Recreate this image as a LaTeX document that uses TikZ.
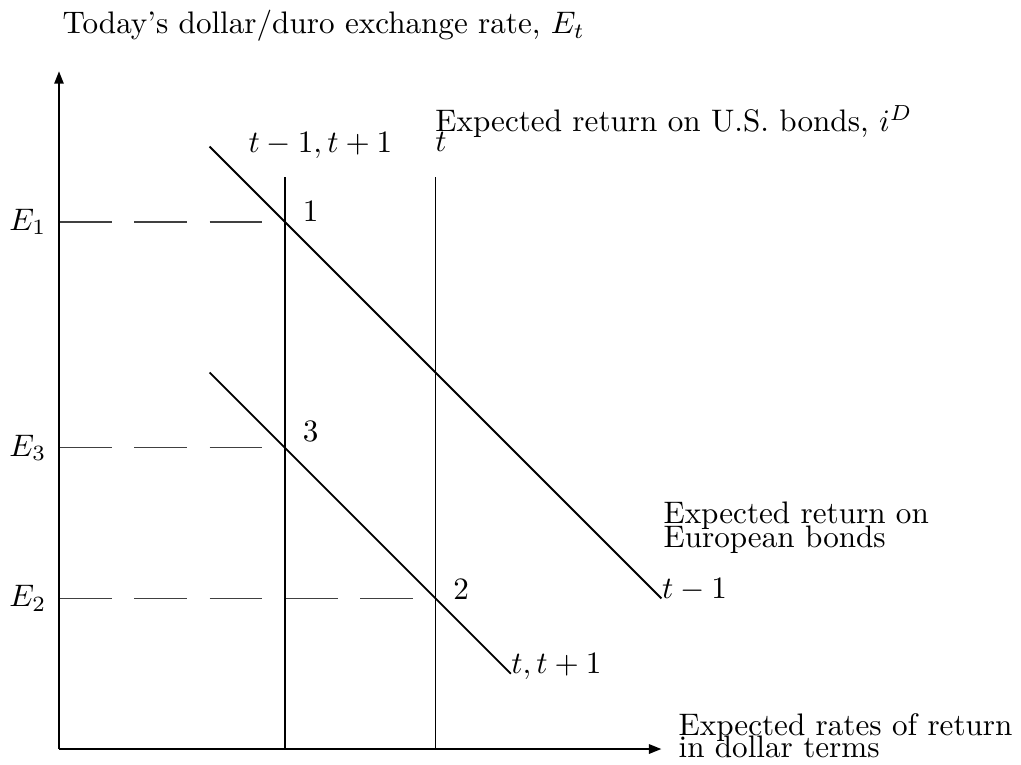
\documentclass[tikz,border=0pt]{standalone}
\usetikzlibrary{arrows.meta}
\begin{document}
\begin{tikzpicture}[x=0.85cm,y=0.85cm,
  axisline/.style={line width=0.6pt,-{Triangle[length=4pt,width=3pt]}},
  solidline/.style={line width=0.6pt},
  guideline/.style={line width=0.4pt,black!75,dash pattern=on 0.595cm off 0.255cm},
  lbl/.style={anchor=base west,inner sep=0pt},
  elbl/.style={anchor=east,inner sep=0pt}]
\useasboundingbox (-0.7835,-0.199) rectangle (12.775,9.947);
% points
\coordinate (O) at (0,0);
\coordinate (Ytop) at (0,9);
\coordinate (Xend) at (8,0);
\coordinate (Vab) at (3,0);
\coordinate (Vat) at (3,7.6);
\coordinate (Vbb) at (5,0);
\coordinate (Vbt) at (5,7.6);
\coordinate (Ua) at (2,8);
\coordinate (Ub) at (8,2);
\coordinate (La) at (2,5);
\coordinate (Lb) at (6,1);
\coordinate (Y1) at (0,7);
\coordinate (Y3) at (0,4);
\coordinate (Y2) at (0,2);
\coordinate (P1) at (3,7);
\coordinate (P3) at (3,4);
\coordinate (Q2) at (3,2);
\coordinate (P2) at (5,2);
% dashed guides
\draw[guideline] (Y1) -- (P1);
\draw[guideline] (Y3) -- (P3);
\draw[guideline] (Y2) -- (Q2);
\draw[guideline] (Q2) -- (P2);
% axes
\draw[axisline] (O) -- (Ytop);
\draw[axisline] (O) -- (Xend);
% vertical lines
\draw[solidline] (Vab) -- (Vat);
\draw[solidline] (Vbb) -- (Vbt);
% downward lines
\draw[solidline] (Ua) -- (Ub);
\draw[solidline] (La) -- (Lb);
% labels
\node[lbl] (title) at (0.04,9.5) {Today's dollar/duro exchange rate, $E_t$};
\node[lbl] (tl) at (2.51,7.915) {$t-1,t+1$};
\node[lbl] (tr) at (4.99,7.94) {$t$};
\node[lbl] (us) at (4.99,8.2) {Expected return on U.S. bonds, $i^D$};
\node[lbl] (n1) at (3.23,7.0) {1};
\node[lbl] (n3) at (3.23,4.09) {3};
\node[lbl] (n2) at (5.23,1.98) {2};
\node[lbl] (tm1) at (Ub) {$t-1$};
\node[lbl] (tt1) at (Lb) {$t,t+1$};
\node[lbl] (eu1) at (8.02,3.0) {Expected return on};
\node[lbl] (eu2) at (8.02,2.68) {European bonds};
\node[lbl] (xl1) at (8.22,0.186) {Expected rates of return};
\node[lbl] (xl2) at (8.22,-0.115) {in dollar terms};
\node[elbl] (e1) at (-0.16,7) {$E_1$};
\node[elbl] (e3) at (-0.16,4) {$E_3$};
\node[elbl] (e2) at (-0.16,2) {$E_2$};
\end{tikzpicture}
\end{document}
